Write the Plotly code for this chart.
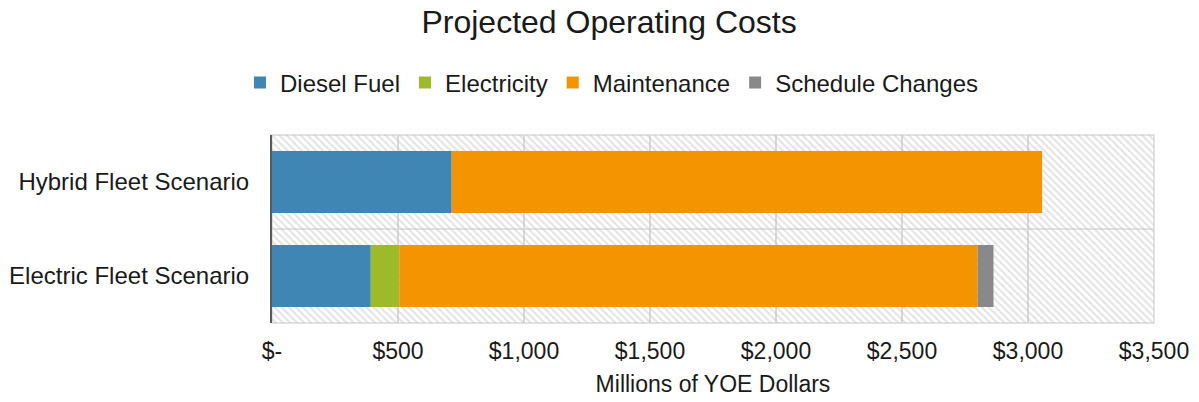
import plotly.graph_objects as go

# Scenario categories (top to bottom) and cost components, millions of YOE dollars
scenarios = ["Hybrid Fleet Scenario", "Electric Fleet Scenario"]
diesel_fuel = [713, 392]
electricity = [0, 113]
maintenance = [2343, 2295]
schedule_changes = [0, 63]

series_names = ["Diesel Fuel", "Electricity", "Maintenance", "Schedule Changes"]
series_colors = ["#3F86B4", "#9BBB2B", "#F49400", "#898989"]

x_max = 3500
tick_values = [0, 500, 1000, 1500, 2000, 2500, 3000, 3500]
tick_labels = ["$-", "$500", "$1,000", "$1,500", "$2,000", "$2,500", "$3,000", "$3,500"]

FONT = "Liberation Sans, Arial, sans-serif"
TEXT = "#1a1a1a"
LABEL_SIZE = 23

fig = go.Figure()

# Hatched plot-area background, one full-width band per category
fig.add_trace(go.Bar(
    y=scenarios, x=[x_max] * len(scenarios), base=[0] * len(scenarios),
    orientation="h", width=1.0, showlegend=False, hoverinfo="skip",
    marker=dict(
        color="rgba(0,0,0,0)", line=dict(width=0),
        pattern=dict(shape="\\", fgcolor="#c6c6c6", bgcolor="rgba(0,0,0,0)",
                     size=5, solidity=0.4, fillmode="overlay"),
    ),
))

# Stacked cost components
base = [0] * len(scenarios)
for name, color, vals in zip(series_names, series_colors,
                             [diesel_fuel, electricity, maintenance, schedule_changes]):
    fig.add_trace(go.Bar(
        y=scenarios, x=vals, base=list(base), orientation="h", name=name,
        width=0.66, marker=dict(color=color, line=dict(width=0)),
    ))
    base = [b + v for b, v in zip(base, vals)]

# Plot frame and the divider between the two scenarios
fig.add_shape(type="rect", xref="paper", yref="paper", x0=0, x1=1, y0=0, y1=1,
              line=dict(color="#d9d9d9", width=1.5), layer="below")
fig.add_shape(type="line", xref="paper", yref="y", x0=0, x1=1, y0=0.5, y1=0.5,
              line=dict(color="#d9d9d9", width=1.5), layer="below")

fig.update_layout(
    width=1199, height=402,
    barmode="overlay",
    paper_bgcolor="white", plot_bgcolor="white",
    margin=dict(l=272, r=45, t=135, b=79),
    font=dict(family=FONT, color=TEXT, size=LABEL_SIZE),
    title=dict(text="Projected Operating Costs", x=0.508, xref="container",
               xanchor="center", y=0.945, yanchor="middle",
               font=dict(size=32, family=FONT, color=TEXT)),
    legend=dict(orientation="h", xref="container", x=0.51, xanchor="center",
                yref="container", y=1 - 83 / 402, yanchor="middle",
                font=dict(size=24, family=FONT, color=TEXT),
                itemwidth=30, traceorder="normal", bgcolor="rgba(0,0,0,0)"),
    xaxis=dict(range=[0, x_max], tickvals=tick_values, ticktext=tick_labels,
               showgrid=True, gridcolor="#d9d9d9", gridwidth=1.5,
               zeroline=False, showline=False, ticks="", automargin=False,
               tickfont=dict(size=LABEL_SIZE), ticklabelstandoff=12,
               title=dict(text="Millions of YOE Dollars",
                          font=dict(size=LABEL_SIZE), standoff=12)),
    yaxis=dict(autorange="reversed", showgrid=False, zeroline=False,
               showline=True, linecolor="#595959", linewidth=2, ticks="",
               automargin=False,
               tickfont=dict(size=24), ticklabelstandoff=16),
)

fig.write_html("out.html")
